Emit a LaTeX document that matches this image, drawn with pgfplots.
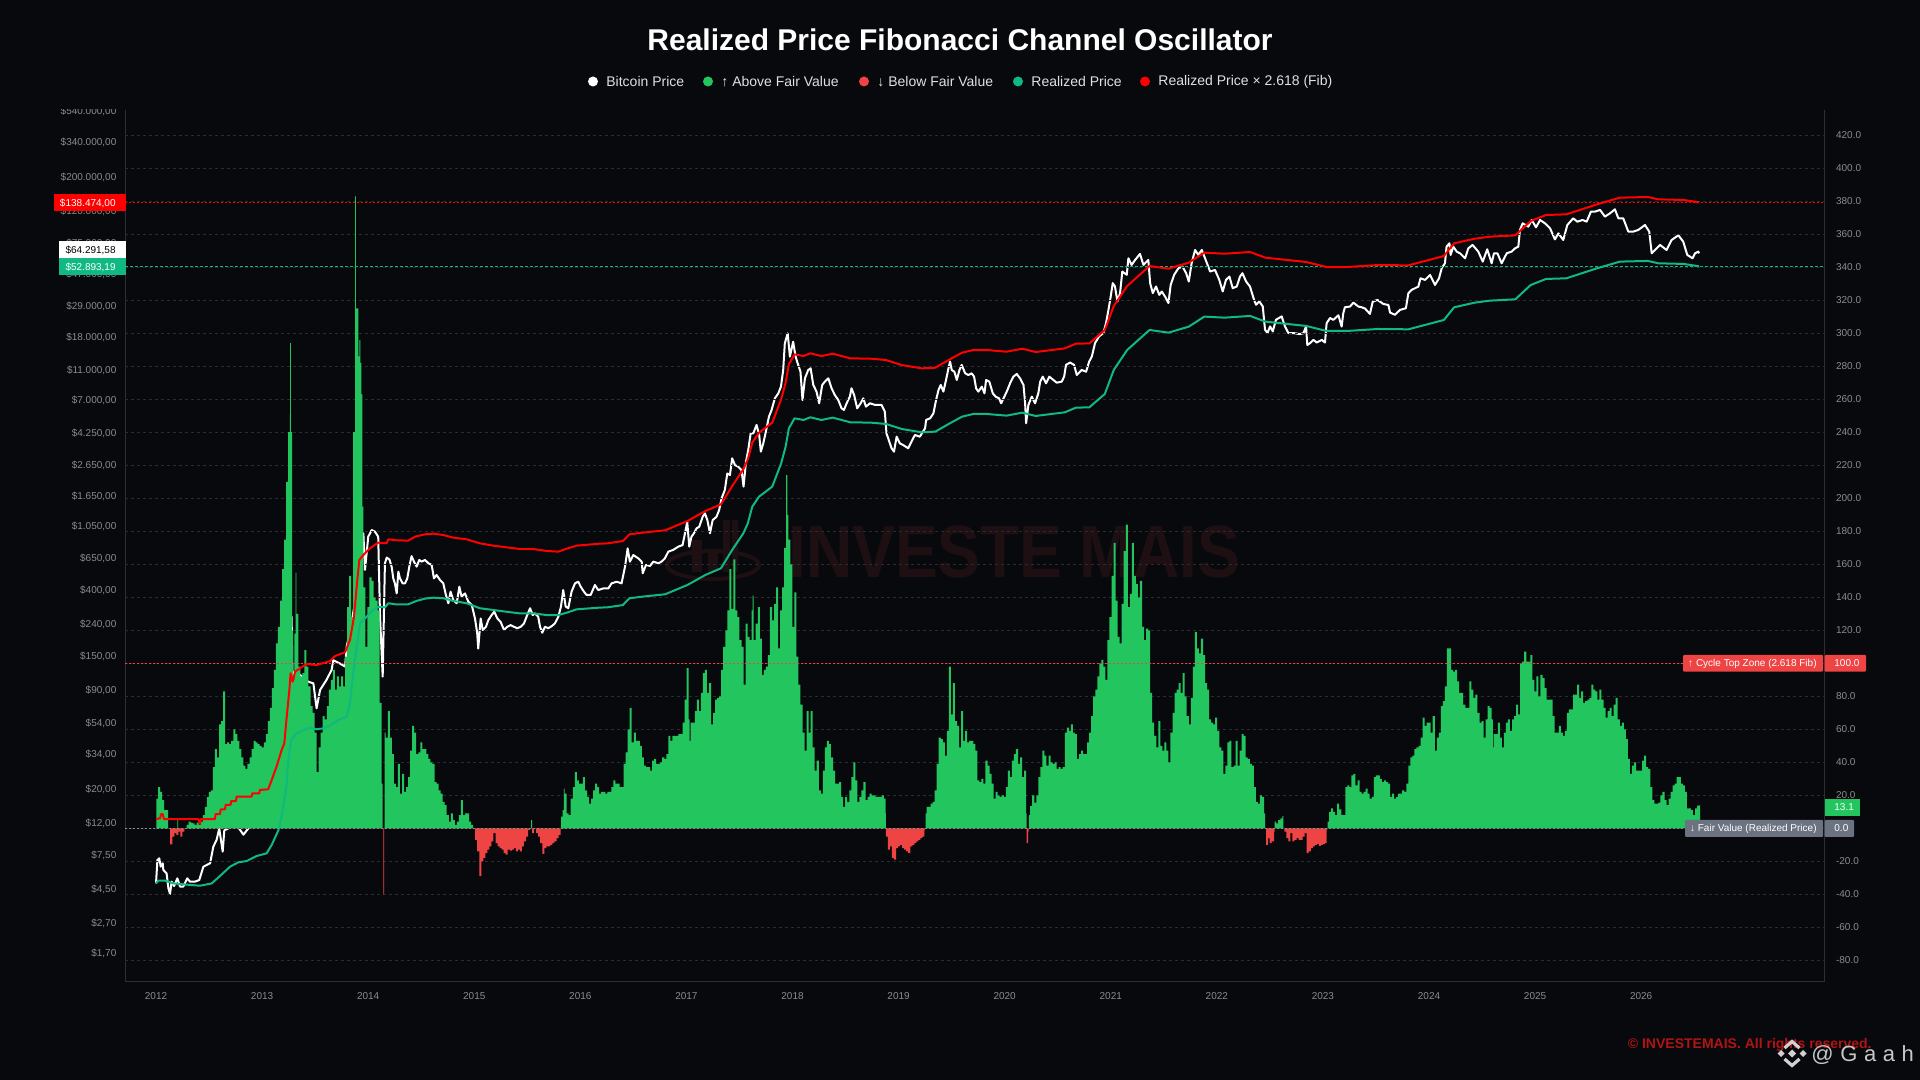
\documentclass[border=0pt]{standalone}
\usepackage{pgfplots}
\pgfplotsset{compat=1.18}
\usepackage{fontspec}
\setmainfont{Liberation Sans}
\newfontfamily\spaced[LetterSpace=30]{Liberation Sans}

\definecolor{bgc}{HTML}{08090C}
\definecolor{gridc}{HTML}{2A2B2E}
\definecolor{spinec}{HTML}{2E2F33}
\definecolor{tickc}{HTML}{8C8C8C}
\definecolor{colabove}{HTML}{22C55E}
\definecolor{colbelow}{HTML}{EF4444}
\definecolor{realized}{HTML}{10B981}
\definecolor{fibred}{HTML}{FF0000}
\definecolor{fairgrey}{HTML}{6B7280}
\definecolor{wmark}{HTML}{1E1012}
\definecolor{copyr}{HTML}{B01414}

% x in all series = weeks since 1 Jan 2012 (one week is about 2 px)
\pgfplotsset{
  chartframe/.style={
    scale only axis, width=849.5pt, height=436pt,
    at={(62.5pt,49pt)}, anchor=south west,
    xmin=-15.25, xmax=820.46,
    major tick length=0pt, minor tick length=0pt,
    axis line style={spinec, line width=0.5pt},
    tick label style={font=\fontsize{5}{6}\selectfont, text=tickc},
  },
}

\begin{document}
\begin{tikzpicture}
\path[use as bounding box] (0,0) rectangle (960pt,540pt);
\fill[bgc] (0,0) rectangle (960pt,540pt);

% background watermark, pixel coordinates of the 1920x1080 frame
\begin{scope}[x=0.5pt,y=-0.5pt,yshift=540pt]
  \node[anchor=west, text=wmark, font=\bfseries\fontsize{37}{40}\selectfont, xscale=0.865, inner sep=0pt] at (788,552) {INVESTE MAIS};
  \draw[wmark, line width=2pt] (713,565) ellipse (46 and 14);
  \fill[wmark] (692,540) rectangle (702,572);
  \fill[wmark] (708,552) rectangle (718,572);
  \fill[wmark] (723,520) rectangle (730,572);
  \fill[wmark] (732,520) rectangle (738,572);
\end{scope}

% --- price axis, left: Bitcoin price under the histogram ---
\begin{axis}[chartframe, ymode=log, ymin=1.1111, ymax=555900,
  axis y line*=left, axis x line*=bottom,
  xtick={0,52.18,104.36,156.54,208.72,260.9,313.08,365.26,417.44,469.62,521.8,573.98,626.16,678.34,730.52},
  xticklabels={2012,2013,2014,2015,2016,2017,2018,2019,2020,2021,2022,2023,2024,2025,2026},
  xticklabel style={yshift=-1.5pt},
  ytick={1.7,2.7,4.5,7.5,12,20,34,54,90,150,240,400,650,1050,1650,2650,4250,7000,11000,18000,29000,47000,75000,120000,200000,340000,540000},
  yticklabels={{\$1,70},{\$2,70},{\$4,50},{\$7,50},{\$12,00},{\$20,00},{\$34,00},{\$54,00},{\$90,00},{\$150,00},{\$240,00},{\$400,00},{\$650,00},{\$1.050,00},{\$1.650,00},{\$2.650,00},{\$4.250,00},{\$7.000,00},{\$11.000,00},{\$18.000,00},{\$29.000,00},{\$47.000,00},{\$75.000,00},{\$120.000,00},{\$200.000,00},{\$340.000,00},{\$540.000,00}},
  yticklabel style={xshift=-0.8pt},
]
\addplot[white, line width=1pt, line join=round] coordinates {
(0,4.90)(0.7,6.97)(1.6,7.15)(2.3,6.30)(3.3,6.63)(3.6,6.0)(5.2,5.70)(6.1,4.55)(6.9,4.18)(7.7,5.03)(8.9,4.71)(10.5,5.29)(11.8,4.67)(13.4,4.67)(15.4,5.29)(16.7,5.03)(19.2,5.03)(21.3,5.16)(23.3,6.30)(26.6,6.63)(28.2,8.52)(29.8,9.42)(31.1,11.2)(32.8,7.90)(33.6,10.9)(35.6,11.2)(38,12.7)(43,10.2)(45.4,11.2)(49.5,13.4)(54.4,17.2)(59.3,28.4)(62.6,46.9)(65.1,128)(66.7,271)(67.2,87.8)(67.5,115.7)(68.4,118.6)(70.8,113)(74.9,102)(77.4,99.5)(79,68.3)(80.7,90)(83.9,105)(86.4,122)(87.2,141)(90.5,134)(93,128)(93.8,172.8)(96.2,245)(98.7,405)(100.3,637)(102,951)(102.8,548)(104.4,904)(106.1,1000)(107.7,975)(109.3,904)(110.2,271)(111.5,110)
(112.6,606)(113.5,660)(114.8,642)(115.9,576)(116.7,483)(117.5,448)(118.4,385)(119.2,534)(120,483)(121.3,448)(122.5,448)(123.6,483)(124.6,576)(125.7,675)(126.9,621)(128.2,576)(129.5,637)(130.7,621)(132.3,637)(134,606)(135.6,591)(136.7,483)(138,508)(139.7,471)(141.3,448)(142.6,376)(143.8,332)(144.9,395)(146.2,349)(147.9,332)(149.2,426)(150.3,367)(152,385)(153.6,340)(155.3,324)(156.9,264)(158,211)(158.5,168)(159.7,264)(160.7,222)(162.3,233)(163.5,258)(165.1,278)(166.4,292)(167.9,264)(169.5,251)(171.2,222)(172.8,233)(174.4,239)(176.1,233)(177.7,228)(179.4,233)(181,245)(182.6,278)(184,308)(185.3,278)(186.4,285)(188,271)(188.9,233)(190,213)(191.3,233)(193,228)(194.6,235)(196.2,245)(197.9,271)(199.2,316)(200.3,405)(201.5,316)(202.8,308)(204.4,395)(206.1,448)(207.7,459)(208.9,426)(210.5,395)(211.8,376)(213.8,376)(215.9,437)(217.5,405)(220,415)(222.5,415)(224.1,448)(226.6,459)(229,448)(230.7,576)(232,758)(233.1,621)(234.8,686)(237.2,653)(238.9,621)(239.4,521)(241,591)(243,582)(244.6,621)(247.1,606)
(248.7,622)(250.3,652)(252,722)(254.4,741)(256.9,778)(259,797)(260.2,951)(261.3,1130)(262.3,778)(263.4,905)(264.6,951)(265.9,1025)(267.2,1050)(268.9,1220)(270,1285)(271.2,1160)(272.5,951)(273.8,1160)(275.7,1220)(277,1350)(278.2,1610)(279.8,1825)(281,2340)(282.3,2285)(283.4,2940)(284.8,2655)(286.4,2590)(288,2460)(289,1920)(290.2,2800)(291.3,3330)(292.5,4280)(293.8,4280)(295.4,4860)(296.7,4180)(297.5,3250)(298.7,3680)(299.8,4280)(301.5,5510)(302.8,6090)(304.4,7250)(306.1,7820)(307.4,8650)(308.5,11100)(309.3,16600)(310.7,19290)(311.8,13590)(313.4,17000)(314.6,13590)(315.9,11960)(317,10830)(318,7070)(319.2,9800)(320.8,11100)(322,11390)(323.3,8870)(324.9,8020)(326.2,6730)(327.7,8870)(329,9320)(330.7,9800)(332.3,8440)(333.9,7620)(335.6,7070)(337.2,6240)(338.4,6090)(339.7,6730)(341.3,7440)(342.1,8440)(343.4,7620)(344.9,6240)(346.6,6730)(347.9,7250)(349.2,6400)(351.2,6730)(353.6,6570)(356.9,6570)(358.5,5930)(359.3,4280)(360.7,3780)(361.8,3420)(363,3250)(364.3,4070)(365.9,3680)(367.5,3590)(370,3420)(371.6,3780)(373.3,4180)(375.7,4070)
(378.3,4620)(378.8,5240)(380.8,5370)(382.4,5790)(383.7,7070)(384.9,8220)(386,8870)(387.3,8020)(388.6,9560)(389.8,11400)(390.6,12600)(391.4,11110)(392.7,10830)(393.9,9560)(395.2,11110)(396.3,11990)(398,10570)(399.6,10300)(401.2,10570)(402.4,10050)(403.4,8430)(404.5,8020)(406.2,8650)(407.5,7820)(408.3,9560)(409.9,9320)(411.6,7820)(413,7440)(414.7,7250)(415.7,6730)(417.3,7440)(418.8,8220)(420.1,9090)(421.7,10050)(423.4,10460)(425,9800)(426.7,8870)(427.5,6730)(428,4980)(429.1,6560)(430.8,7440)(432.4,6730)(434,7820)(434.9,9320)(436.2,10050)(437.8,9090)(439.4,10050)(441.4,9560)(443,9180)(445.5,9320)(446.7,10050)(447.6,11990)(449.6,12430)(451.6,11990)(452.9,10300)(455.3,11110)(457.5,10830)(459,12600)(460.3,13580)(461.9,16670)(463.9,18430)(466,19370)(467.3,22510)(468.5,27500)(469.6,33590)(470.6,41030)(471.7,39030)(472.9,31150)(474.2,35300)(475.3,48880)(477.5,46500)(478.3,59700)(479.9,54000)(481.6,58200)(484,63700)(485.7,54000)(488.1,58200)(489,41030)(490.3,35300)(491.9,39030)(493.5,34400)(494.7,36200)(496.3,33590)(498,30390)(499.1,40000)(500.8,46500)(502.9,51400)(504.9,52700)(506.7,47670)(508,42070)(509.4,55400)(511.1,67650)(512.7,62800)(514.4,67650)(516,59700)(518.5,48880)(520.9,50100)(523,43130)(524.7,36200)(526.3,43130)(528,45340)(529.6,38060)(531.6,39030)(533.2,45340)(534.4,47670)(536.2,42070)(538.1,39030)(540.1,31950)(541.1,29640)(542.7,31150)(544.4,28900)(545.5,20370)(546.7,19370)(548,21410)(549.3,19860)(550.9,23670)(553.7,24880)(555.3,21410)(557,19370)(559.4,19370)
(562.7,19070)(564.4,19320)(565.7,21360)(566.3,16200)(567.6,16620)(569.3,17480)(570.9,16800)(573.4,17480)(575,16800)(575.8,22450)(577.5,24300)(579.1,23610)(581.6,25300)(583.2,21360)(584,26100)(584.8,28560)(587.3,28850)(589,30630)(591.4,28850)(593,28560)(594.7,28000)(597.1,25840)(598.5,31100)(600.8,31890)(603.7,30000)(606.2,29560)(607,26360)(609.4,25500)(611.9,27440)(614.8,28140)(616,35250)(617.6,37060)(620.9,38970)(622,44170)(624.2,43080)(626.7,46440)(629.1,39950)(631.1,44170)(632.4,51340)(634,55340)(634.8,71100)(636.2,74800)(636.8,62750)(638.1,71100)(639.8,65960)(641.4,64330)(643.9,59670)(645.5,69340)(647.6,72930)(650.4,65960)(652.6,56760)(654.8,68300)(657,55340)(658.1,64330)(659.8,64330)(661.9,55340)(664.4,64330)(666.8,65960)(668.5,69340)(670.1,71100)(670.9,91380)(672.2,101000)(675,96070)(676.7,106200)(678.8,95100)(680.8,106200)(683.2,101000)(685.7,93700)(688.1,79300)(689.8,86900)(692.2,78600)(694.2,98500)(697.1,108900)(699.1,103500)(701.7,106200)(703.7,103500)(705.8,120400)(707.8,120400)(710.3,123500)(712.7,111700)(715.2,117400)(717.6,124700)(719.3,108900)(721.7,108900)(724.2,89100)(726.6,89100)(729.1,91380)(732.4,98500)(734.5,89100)(735.7,64330)(737.3,67630)(739.8,72930)(743,67630)(745.5,78600)(748.8,84300)(751.2,76700)(753.2,62750)(755.8,59670)(757,64330)(758.6,65960)(759,64291)
};
\end{axis}

% --- oscillator axis, right: histogram above/below fair value ---
\begin{axis}[chartframe, ymin=-93.15, ymax=435.3,
  axis y line*=right, axis x line=none,
  xtick=\empty,
  ytick={-80,-60,-40,-20,0,20,40,60,80,100,120,140,160,180,200,220,240,260,280,300,320,340,360,380,400,420},
  yticklabel style={xshift=2.5pt, /pgf/number format/fixed, /pgf/number format/fixed zerofill, /pgf/number format/precision=1, /pgf/number format/1000 sep={}, /pgf/number format/assume math mode=true},
  ymajorgrids,
  grid style={gridc, line width=0.5pt, dash pattern=on 1.5pt off 1.5pt},
]
\addplot[fill=colabove, draw=none, const plot] coordinates {
(0,0)(0.2,18)(1,25)(2,22)(3,17)(4,11)(5,11)(6,0)(10.2,0)(10.5,5)(10.9,0)(14,0)(15,2)(16,4)(17,3.4)(18,3)(19,2)(20,3.4)(21,2)(22,4)(23,8)(24,13)(25,19)(26,22)(27,23)(28,37)(29,48)(30,43)(31,63)(32,65)(33,83)(34,51)(35,52)(36,51)(37,53)(38,60)(39,57)(40,53)(41,48)(42,43)(43,38)(44,36)(45,39)(46,43)(47,48)(48,53)(49,52)(50,51)(51,50)(52,49)(53,52)(54,57)(55,65)(56,73)(57,85)(58,96)(59,112)(60,122)(61,138)(62,157)(63,175)(64,210)(65,240)(65.8,251)(66,294)(66.3,240)(67,120)(67.5,90)(68,118)(68.7,155)(69,130)(70,98)(71,92)(72,94)(73,108)(74,98)(75,86)(76,74)(77,70)(78,58)(79,34)(80,49)(81,58)(82,68)(83,66)(84,74)(85,84)(86,90)(87,96)(88,84)(89,92)(90,86)(91,92)(92,86)(93,104)(94,134)(95,153)(96,128)(97,240)(97.6,240)(98,383)(98.3,315)(99,315)(99.5,286)(100,296)(100.5,282)(101,263)(101.5,195)(102,146)(103,110)(104,134)(105,152)(106,150)(107,140)(108,138)(109,132)(110,76)(111,27)(111.5,0)(112.2,0)(112.5,58)(113,55)(114,71)(115,55)(116,45)(117,27)(118,25)(119,39)(120,21)(121,33)(122,22)(123,25)(124,31)(125,47)(126,62)(127,58)(128,45)(129,46)(130,52)(131,48)(132,48)(133,45)(134,42)(135,40)(136,39)(137,28)(138,27)(139,23)(140,21)(141,16)(142,14)(143,8)(144,4)(145,9)(146,5)(147,2)(148,4)(149,8)(150,17)(151,8)(152,9)(153,9)(154,4)(155,2)(156,0)(184,0)(184.5,5)(185,0)(199,0)
(199.3,7)(200,11)(200.6,24)(201,21)(202,9)(203,8)(204,18)(205,25)(206,34)(207,29)(208,27)(209,27)(210,31)(211,23)(212,19)(213,15)(214,18)(215,23)(216,27)(217,25)(218,21)(219,22)(220,22)(221,21)(222,22)(223,22)(224,25)(225,29)(226,27)(227,27)(228,25)(229,25)(230,39)(231,46)(232,60)(233,73)(234,52)(235,58)(236,53)(237,53)(238,50)(239,43)(240,38)(241,37)(242,37)(243,35)(244,41)(245,42)(246,39)(247,39)(248,40)(249,43)(250,42)(251,45)(252,56)(253,53)(254,56)(255,56)(256,56)(257,57)(258,57)(259,64)(260,78)(261,97)(262,66)(262.5,53)(263,64)(264,64)(265,71)(266,78)(267,71)(268,82)(269,94)(270,96)(271,82)(272,88)(273,63)(274,70)(275,78)(276,79)(277,80)(278,96)(279,110)(280,120)(281,132)(282,157)(283,133)(284,163)(285,132)(286,128)(287,114)(288,110)(289,87)(290,124)(291,116)(292,114)(293,132)(293.5,141)(294,114)(295,124)(296,134)(297,115)(298,93)(299,96)(300,98)(301,105)(302,134)(303,126)(304,136)(305,146)(306,109)(307,132)(308,146)(309,170)(310,214)(310.5,190)(311,175)(312,160)(313,122)(314,143)(315,104)(316,87)(317,75)(318,58)(319,47)(320,71)(321,58)(322,71)(323,49)(324,35)(325,41)(326,23)(327,21)(328,35)(329,49)(330,53)(331,51)(332,43)(333,35)(334,27)(335,27)(336,28)(337,19)(338,13)(339,19)(340,16)(341,23)(342,31)(343,40)(344,29)(345,16)(346,19)(347,23)(348,28)(349,17)(350,19)(351,21)(352,20)(353,20)(354,19)(355,19)(356,19)(357,20)(358,18)(358.9,9)(359,0)(378.2,0)
(378.5,9)(379,13)(380,13)(381,15)(382,16)(383,23)(384,39)(385,55)(386,54)(387,52)(388,44)(389,59)(390,98)(391,69)(392,88)(393,65)(394,62)(395,49)(396,71)(397,53)(398,59)(399,52)(400,53)(401,53)(402,51)(403,47)(404,29)(405,28)(406,30)(407,27)(408,41)(409,38)(410,33)(411,27)(412,18)(413,22)(414,20)(415,19)(416,20)(417,19)(418,25)(419,35)(420,31)(421,41)(422,45)(423,48)(424,39)(425,43)(426,31)(427,35)(428,9)(428.2,0)(429,0)(429.3,8)(430,13.5)(431,20)(432,15.5)(433,20)(434,31)(435,37)(436,47)(437,44)(438,38)(439,44)(440,40)(441,39)(442,40)(443,36)(444,37)(445,36)(446,37)(447,58)(448,61)(449,59)(450,63)(451,58)(452,57)(453,42)(454,45)(455,47)(456,45)(457,45)(458,52)(459,58)(460,68)(461,80)(462,84)(463,92)(464,100)(465,102)(466,98)(467,90)(468,114)(469,128)(470,153)(471,173)(472,138)(473,116)(474,112)(475,136)(476,168)(477,184)(478,134)(479,142)(480,173)(481,153)(482,148)(483,140)(484,150)(485,122)(486,114)(487,121)(488,120)(489,82)(490,64)(491,56)(492,49)(493,65)(494,50)(495,47)(496,52)(497,47)(498,40)(499,58)(500,70)(501,82)(502,84)(503,88)(504,82)(505,94)(506,80)(507,68)(508,63)(509,79)(510,98)(511,119)(512,109)(513,106)(514,115)(515,105)(516,88)(517,84)(518,66)(519,64)(520,63)(521,67)(522,59)(523,49)(524,47)(525,33)(526,38)(527,52)(528,53)(529,37)(530,38)(531,53)(532,38)(533,47)(534,57)(535,56)(536,43)(537,42)(538,39)(539,38)(540,25)(541,16)(542,15)(543,20)(544,19)(545,9)(545.5,0)(550,0)
(550.2,4)(551,3)(552,5)(553,6)(554,7.5)(554.5,0)(576,0)(576.3,4)(577,10)(578,12)(579,10)(580,8)(581,15)(582,11.5)(583,8)(584,8)(585,25)(586,26)(587,25)(588,32)(589,33)(590,26)(591,29)(592,22)(593,21)(594,22)(595,24)(596,21)(597,18)(598,19)(599,31)(600,32)(601,32)(602,30)(603,28)(604,29)(605,28)(606,27)(607,19)(608,21)(609,18)(610,19)(611,21)(612,21)(613,23)(614,22)(615,27)(616,38)(617,43)(618,44)(619,48)(620,49)(621,50)(622,55)(623,67)(624,62)(625,64)(626,64)(627,58)(628,68)(629,47)(630,55)(631,58)(632,74)(633,77)(634,86)(635,109)(636,109)(637,96)(638,95)(639,96)(640,89)(641,82)(642,82)(643,75)(644,73)(645,73)(646,89)(647,84)(648,79)(649,81)(650,70)(651,64)(652,65)(653,55)(654,66)(655,74)(656,73)(657,66)(657.6,49)(658,57)(659,57)(660,64)(661,55)(662,49)(663,58)(664,64)(665,66)(666,59)(667,66)(668,68)(669,75)(670,69)(671,100)(672,101)(673,107)(674,101)(675,101)(676,105)(677,90)(678,83)(679,92)(680,80)(681,93)(682,91)(683,85)(684,78)(685,78)(686,78)(687,68)(688,58)(689,58)(690,62)(691,58)(692,56)(693,59)(694,70)(695,72)(696,72)(697,81)(698,81)(699,87)(700,79)(701,83)(702,76)(703,77)(704,78)(705,79)(706,87)(707,84)(708,83)(709,78)(710,84)(711,78)(712,73)(713,67)(714,71)(715,73)(716,68)(717,75)(718,79)(719,66)(720,62)(721,64)(722,60)(723,54)(724,42)(725,33)(726,38)(727,40)(728,35)(729,35)(730,35)(731,41)(732,44)(733,37)(734,36)(735,25)(736,17)(737,15)(738,15)(739,15.5)(740,20)(741,22)(742,17)(743,14)(744,18)(745,22)(746,26)(747,27)(748,31)(749,31)(750,27)(751,26)(752,22)(753,12)(754,12)(755,11)(756,8)(757,12)(758,13.7)(759,13.9)(759.5,13.1)(759.5,0)
} -- cycle;
\addplot[fill=colbelow, draw=none, const plot] coordinates {
(6.3,0)(7,-9.7)(8,-5)(9,-3)(10,-4)(11,-2)(12,-5)(13,-2)(14,0)(111.4,0)(111.8,-40)(112.2,0)
(156,0)(157,-7)(158,-14)(159,-29)(160,-20)(161,-18)(162,-15)(163,-13)(164,-11)(165,-8)(166,-3)(167,-9)(168,-11)(169,-12)(170,-13)(171,-15)(172,-16)(173,-13)(174,-13.5)(175,-13)(176,-12)(177,-14)(178,-13)(179,-14)(180,-11)(181,-8)(182,-5)(183,-1)(184,0)(185,-3)(186,0)(187,-3)(188,-5)(189,-9)(190,-15.5)(191,-12)(192,-11)(193,-11)(194,-10)(195,-9)(196,-8)(197,-6)(198,-4)(199,0)
(358.9,0)(359,-5)(360,-13)(361,-11)(362,-18)(363,-19)(364,-12)(365,-11)(366,-10)(367,-12)(368,-13)(369,-14)(370,-15)(371,-11)(372,-10)(373,-9)(374,-8)(375,-7)(376,-6)(377,-5)(378,-1)(378.2,0)
(428,0)(428.3,-9)(429,-2)(429.2,0)
(545.5,0)(546,-10)(547,-6)(547.8,-9)(548.7,-8)(550,-2)(550.2,0)(554.5,0)(555,-2)(556,-6)(557,-8)(558,-3)(559,-8)(560,-7)(561,-6)(562,-7)(563,-7)(564,-5)(565,-3)(566,-15)(567,-14)(568,-12)(569,-11)(570,-10)(571,-9.5)(572,-10.7)(573,-10)(574,-9.5)(575,-9)(575.8,-1)(576,0)
} -- cycle;
\addplot[colbelow, line width=0.4pt, dash pattern=on 1pt off 1pt] coordinates {(-15.25,100)(820.46,100)};
\addplot[tickc, line width=0.4pt, dash pattern=on 1pt off 1pt] coordinates {(-15.25,0)(820.46,0)};
\end{axis}

% --- price axis again, no decoration: realized price and Fib band on top ---
\begin{axis}[chartframe, ymode=log, ymin=1.1111, ymax=555900, hide axis]
\addplot[fibred, line width=0.5pt, dash pattern=on 1pt off 1pt] coordinates {(-15.25,138474)(820.46,138474)};
\addplot[realized, line width=0.5pt, dash pattern=on 1.5pt off 1pt] coordinates {(-15.25,52893)(820.46,52893)};
\addplot[realized, line width=1pt, line join=round] coordinates {
(0,4.90)(1.1,5.11)(4.4,5.11)(8.5,4.90)(13.4,4.83)(21.6,4.73)(27.4,4.90)(31.5,5.48)(36.4,6.30)(40.5,6.73)(44.6,6.86)(49.5,7.40)(54.4,7.70)(56.9,8.73)(60.2,10.9)(61.8,13.4)(63.1,17.2)(64.3,22.1)(65.1,31.4)(66.4,42.4)(69.2,46.9)(72.5,49.3)(75.7,51.1)(79,49.8)(82.3,50.5)(85.6,52.6)(89.7,57.3)(93.8,60.3)(95.4,73.6)(97,115.7)(98.7,172.8)(100.3,245)(103.6,271)(106.9,300)(109.3,315)(112.6,312)(114.3,332)(117.5,327)(124.1,327)(128.2,344)(132.3,356)(136.4,361)(141.3,358)(146.2,344)(152.8,332)(159.3,308)(165.9,300)(172.5,292)(179,285)(185.6,285)(192.1,278)(197.9,278)(202,288)(206.9,303)(218.4,311)(221.9,312)(229.6,323)(232.9,358)(239.5,367)(250.4,380)(261.4,437)(270.2,508)(277.9,562)(283.4,740)(288.9,951)(291.1,1106)(293.3,1421)(296.6,1651)(303.1,1919)(307.5,2727)(309.7,3504)(311.3,4619)(314.1,5369)(318.5,5236)(321.8,5451)(327.3,5236)(332.8,5423)(341.6,5055)(351.5,5030)(359.1,4930)(366.8,4571)(376.7,4348)(383.3,4392)(389.9,4930)(396.5,5506)(402,5730)(408.6,5730)(418.4,5589)(426.1,5847)(432.7,5561)(447,5875)(452.5,6302)(459.1,6334)(466.7,7742)(471.1,11110)(477.7,15015)(488.7,20290)(498,19490)(508,21330)(515.6,24800)(525.6,24420)(538.2,25050)(545.7,23000)(565.8,21550)(575.8,19980)(585.8,19980)(600.9,20590)(616,20490)(626,22200)(633.5,23580)(638.5,28530)(648.6,30600)(656.1,31540)(668.6,32180)(676.2,39930)(683.7,43710)(693.7,44150)(708.8,51310)(720.1,56750)(733.9,57330)(738.9,55340)(751.5,54790)(759,52893)
};
\addplot[fibred, line width=1pt, line join=round] coordinates {
(0,12.9)(2,13.05)(2.5,13.9)(3.3,13.9)(3.9,12.9)(20.8,12.9)(21.6,12.0)(22.1,12.9)(29,12.9)(29.3,13.9)(31.5,13.9)(31.8,14.9)(33.9,14.9)(34.3,16.0)(36.7,16.0)(37,16.9)(39.3,16.9)(39.7,18.1)(47,18.1)(47.4,19.0)(50.8,19.0)(51.1,20.0)(55.2,20.2)(56.9,23.2)(59.3,28.4)(61.8,36.5)(63.1,40.3)(64.3,60.3)(65.6,90)(66.2,115.7)(67.2,102)(68.4,118.6)(70.8,124.7)(74.1,133)(79,131)(85.6,139)(88,150)(93,158.7)(95.4,191)(97.4,271)(98.7,426)(100,637)(102,686)(105.2,759)(109.3,826)(113.4,818)(114.3,869)(118.4,856)(124.1,852)(127.4,904)(132.3,937)(136.4,946)(141.3,927)(146.2,891)(152.8,869)(159.3,818)(165.9,790)(172.5,770)(179,751)(185.6,751)(192.1,729)(197.9,722)(202,755)(206.9,790)(218.4,814)(221.9,817)(229.6,846)(232.9,937)(239.5,961)(250.4,995)(261.4,1144)(270.2,1330)(277.9,1471)(283.4,1937)(288.9,2490)(291.1,2895)(293.3,3720)(296.6,4322)(303.1,5024)(307.5,7139)(309.7,9174)(311.3,12093)(314.1,14056)(318.5,13708)(321.8,14271)(327.3,13708)(332.8,14197)(341.6,13234)(351.5,13169)(359.1,12907)(366.8,11967)(376.7,11383)(383.3,11498)(389.9,12907)(396.5,14415)(402,15001)(408.6,15001)(418.4,14632)(426.1,15307)(432.7,14559)(447,15381)(452.5,16499)(459.1,16582)(466.7,20269)(471.1,29086)(477.7,39309)(488.7,53119)(498,51025)(508,55842)(515.6,64926)(525.6,63932)(538.2,65581)(545.7,60214)(565.8,56418)(575.8,52308)(585.8,52308)(600.9,53905)(616,53643)(626,58120)(633.5,61732)(638.5,74692)(648.6,80111)(656.1,82572)(668.6,84247)(676.2,104537)(683.7,114433)(693.7,115585)(708.8,134330)(720.1,148572)(733.9,150090)(738.9,144880)(751.5,143440)(759,138474)
};
\end{axis}

% --- overlay: title, legend, price tags; pixel coordinates of the frame ---
\begin{scope}[x=0.5pt,y=-0.5pt,yshift=540pt]
  \fill[bgc] (45,100) rectangle (124.5,109.5);
  \node[text=white, font=\bfseries\fontsize{15}{18}\selectfont] at (960,40) {Realized Price Fibonacci Channel Oscillator};

  \newcommand{\legitem}[3]{
    \fill[#1] (#2,81.5) circle (5);
    \node[anchor=west, inner sep=0pt, text=white!88!black, font=\fontsize{7}{9}\selectfont] at (#2+13,82) {#3};}
  \legitem{white}{593}{Bitcoin Price}
  \legitem{colabove}{708}{↑ Above Fair Value}
  \legitem{colbelow}{864}{↓ Below Fair Value}
  \legitem{realized}{1018}{Realized Price}
  \legitem{fibred}{1145}{Realized Price × 2.618 (Fib)}

  \newcommand{\tagfont}{\fontsize{5}{6}\selectfont}
  \fill[fibred] (54,194) rectangle (126,211);
  \node[anchor=east, inner sep=0pt, text=white, font=\tagfont] at (116,203) {\$138.474,00};
  \fill[white] (59,241) rectangle (126,258);
  \node[anchor=east, inner sep=0pt, text=black, font=\tagfont] at (116,250) {\$64.291,58};
  \fill[realized] (59,258) rectangle (126,275);
  \node[anchor=east, inner sep=0pt, text=white, font=\tagfont] at (116,267) {\$52.893,19};

  \fill[colbelow, rounded corners=0.5pt] (1824.5,655) rectangle (1866,671.7);
  \node[anchor=west, inner sep=0pt, text=white, font=\tagfont] at (1834,663.5) {100.0};
  \fill[colbelow, rounded corners=0.5pt] (1683,655) rectangle (1823,671.7);
  \node[anchor=east, inner sep=0pt, text=white, font=\tagfont] at (1817,664) {↑ Cycle Top Zone (2.618 Fib)};
  \fill[colabove] (1824.5,799) rectangle (1860,816);
  \node[anchor=west, inner sep=0pt, text=white, font=\tagfont] at (1834,807.5) {13.1};
  \fill[fairgrey, rounded corners=0.5pt] (1824.5,820) rectangle (1854,837);
  \node[anchor=west, inner sep=0pt, text=white, font=\tagfont] at (1834,828.5) {0.0};
  \fill[fairgrey, rounded corners=0.5pt] (1685,820) rectangle (1823,837);
  \node[anchor=east, inner sep=0pt, text=white, font=\tagfont] at (1817,829) {↓ Fair Value (Realized Price)};

  \node[anchor=east, inner sep=0pt, text=copyr, font=\bfseries\fontsize{7}{9}\selectfont] at (1872,1045) {© INVESTEMAIS. All rights reserved.};

  % overlaid signature mark
  \foreach \cx/\cy/\rr in {1781/1053.5/3.5, 1803/1053.5/3.5, 1792/1053.5/4}{
    \fill[white!82!black] (\cx-\rr,\cy) -- (\cx,\cy-\rr) -- (\cx+\rr,\cy) -- (\cx,\cy+\rr) -- cycle;}
  \draw[white!82!black, line width=1.6pt] (1784.5,1048) -- (1792,1041.5) -- (1799.5,1048);
  \draw[white!82!black, line width=1.6pt] (1784.5,1059) -- (1792,1065.5) -- (1799.5,1059);
  \node[anchor=west, inner sep=0pt, text=white!78!black, font=\spaced\fontsize{11}{13}\selectfont] at (1811,1055) {@Gaah};
\end{scope}
\end{tikzpicture}
\end{document}
